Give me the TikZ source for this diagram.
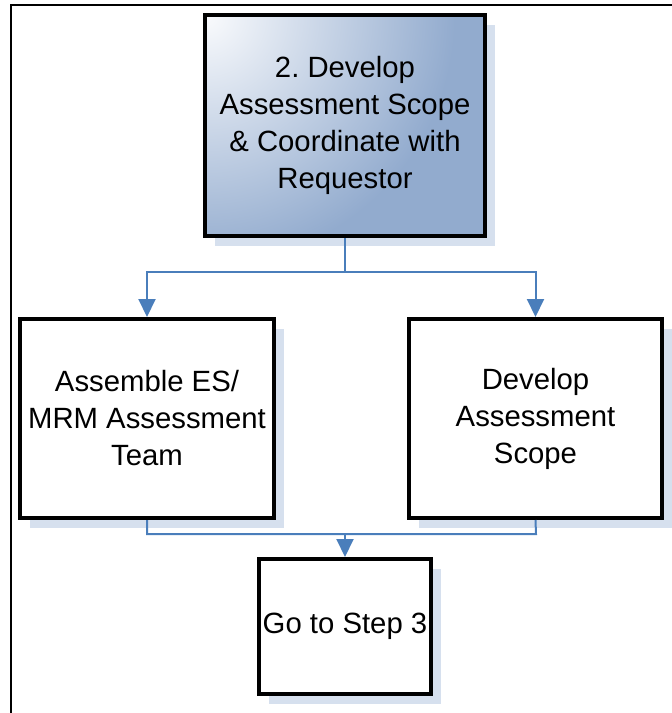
\documentclass[tikz,border=0pt]{standalone}
\usepackage{fontspec}
\setmainfont{Liberation Sans}
\usetikzlibrary{arrows.meta,shadows}
\definecolor{conncol}{RGB}{74,126,187}
\definecolor{shadowcol}{RGB}{214,224,238}
\definecolor{topblue}{RGB}{146,171,206}
\definecolor{topwhite}{RGB}{250,251,253}
\pgfdeclareradialshading{tlshade}{\pgfpoint{0bp}{0bp}}{color(0bp)=(topwhite); color(25bp)=(topblue); color(50bp)=(topblue)}
\tikzset{
  boxstyle/.style={draw=black, line width=4pt, rectangle, fill=white, align=center,
    inner sep=0pt, font=\fontsize{29.3pt}{37pt}\selectfont,
    drop shadow={shadow xshift=10pt, shadow yshift=-10pt, fill=shadowcol, opacity=1}},
  conn/.style={draw=conncol, line width=2pt},
  connarrow/.style={conn, -{Triangle[width=17pt,length=18pt]}}
}
\begin{document}
\frenchspacing
\begin{tikzpicture}[x=1pt,y=-1pt]
\useasboundingbox (0,0) rectangle (672,713);
% outer frame (partly visible)
\draw[line width=2.5pt] (11,713) -- (11,5) -- (672,5);
% nodes
\node[boxstyle, minimum width=280pt, minimum height=221pt,
  path picture={
    \fill[topblue] (path picture bounding box.south west) rectangle (path picture bounding box.north east);
    \shade[shading=tlshade] (path picture bounding box.north west) circle (250pt);}]
  (top) at (345,125.5) {2. Develop\\Assessment Scope\\\& Coordinate with\\Requestor};
\node[boxstyle, minimum width=254pt, minimum height=199pt]
  (left) at (147,418.5) {Assemble ES/\\MRM Assessment\\Team};
\node[boxstyle, minimum width=253pt, minimum height=199pt]
  (right) at (535.5,418.5) {Develop\\Assessment\\Scope};
\node[boxstyle, minimum width=172pt, minimum height=135pt]
  (go) at (345,626.5) {Go to Step 3};
% connectors
\coordinate (j1) at (345,272);
\coordinate (j2) at (345,534);
\coordinate (jl) at (147,534);
\coordinate (jr) at (536,534);
\draw[conn] (top.south) -- (j1);
\draw[connarrow] (j1) -| (left.north);
\draw[connarrow] (j1) -| (right.north);
\draw[conn] (left.south) -- (jl) -- (jr) -- (right.south);
\draw[connarrow] (j2) -- (go.north);
\end{tikzpicture}
\end{document}
